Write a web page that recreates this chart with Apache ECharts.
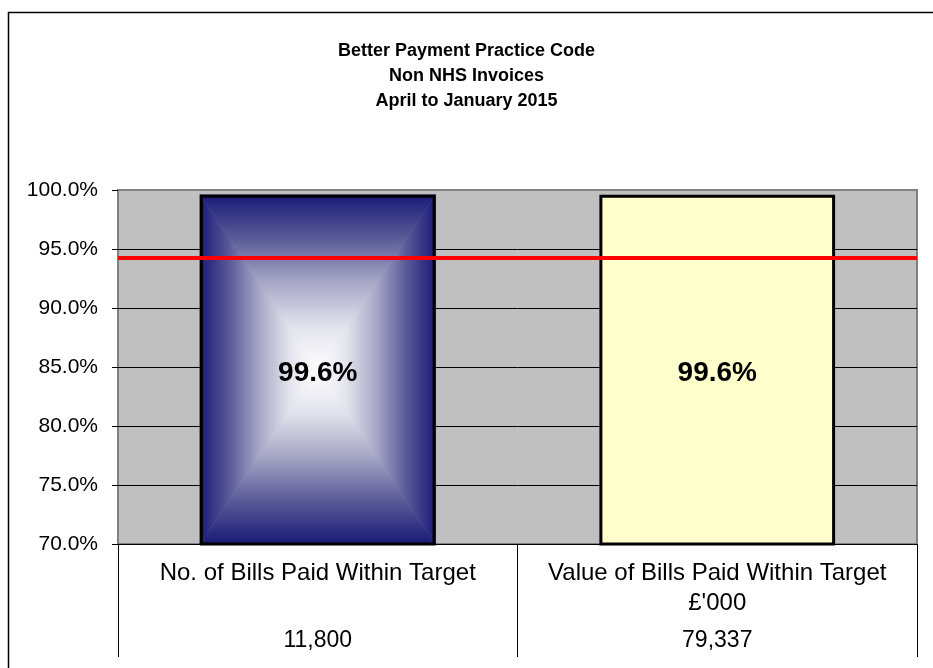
<!DOCTYPE html>
<html><head><meta charset="utf-8">
<script src="https://cdn.jsdelivr.net/npm/echarts@6/dist/echarts.min.js"></script>
<style>html,body{margin:0;padding:0;background:#fff}#c{width:933px;height:668px}</style>
</head><body><div id="c"></div>
<script>
// ---- data ----
const titleLines = ['Better Payment Practice Code', 'Non NHS Invoices', 'April to January 2015'];
const categories = ['No. of Bills Paid Within Target', "Value of Bills Paid Within Target\n£'000"];
const percentValues = [99.6, 99.6];
const tableValues = ['11,800', '79,337'];
const targetValue = 94.3;
const yMin = 70, yMax = 100, yInterval = 5;

// ---- styling ----
const FONT = '"Liberation Sans", Arial, sans-serif';
const BAR_FRAC = 0.59;
const NAVY = '#1a1a78';

function gradFill(x0, y0, x1, y1) {
  return new echarts.graphic.LinearGradient(x0, y0, x1, y1, [
    { offset: 0, color: NAVY },
    { offset: 0.25, color: '#5a5a98' },
    { offset: 0.5, color: '#a6a6c6' },
    { offset: 0.75, color: '#e2e2ec' },
    { offset: 1, color: '#ffffff' }
  ], true);
}

function renderGradientBar(params, api) {
  if (params.dataIndex !== 0) return null;
  const idx = api.value(0), v = api.value(1);
  const top = api.coord([idx, v]);
  const bot = api.coord([idx, yMin]);
  const w = api.size([1, 0])[0] * BAR_FRAC;
  const x0 = top[0] - w / 2, x1 = top[0] + w / 2, y0 = top[1], y1 = bot[1];
  const cx = top[0], cy = (y0 + y1) / 2;
  const poly = (pts, fill) => ({ type: 'polygon', shape: { points: pts }, style: { fill: fill, stroke: fill, lineWidth: 0.5 } });
  return {
    type: 'group',
    children: [
      poly([[x0, y0], [x1, y0], [cx, cy]], gradFill(cx, y0, cx, cy)),
      poly([[x0, y1], [x1, y1], [cx, cy]], gradFill(cx, y1, cx, cy)),
      poly([[x0, y0], [x0, y1], [cx, cy]], gradFill(x0, cy, cx, cy)),
      poly([[x1, y0], [x1, y1], [cx, cy]], gradFill(x1, cy, cx, cy))
    ]
  };
}

const chart = echarts.init(document.getElementById('c'), null, { renderer: 'canvas' });

const option = {
  animation: false,
  backgroundColor: '#ffffff',
  title: {
    text: titleLines.join('\n'),
    left: 'center',
    top: 34,
    textStyle: { fontFamily: FONT, fontSize: 18, fontWeight: 'bold', color: '#000', lineHeight: 25 }
  },
  graphic: [{
    type: 'polyline',
    shape: { points: [[8.5, 668], [8.5, 12.5], [933, 12.5]] },
    style: { stroke: '#000', lineWidth: 1.5, fill: null },
    silent: true
  }],
  grid: {
    left: 118, right: 16, top: 190, bottom: 124,
    show: true, backgroundColor: '#C0C0C0', borderColor: '#808080', borderWidth: 2
  },
  xAxis: [{
    type: 'category',
    data: categories,
    axisLine: { show: true, lineStyle: { color: '#000', width: 1 } },
    axisTick: { show: true, length: 113, interval: 0, lineStyle: { color: '#000', width: 1 } },
    axisLabel: { interval: 0, margin: 14, fontFamily: FONT, fontSize: 24, lineHeight: 30, color: '#000' },
    splitLine: { show: false }
  }, {
    type: 'category',
    data: tableValues,
    position: 'bottom',
    axisLine: { show: false },
    axisTick: { show: false },
    axisLabel: { interval: 0, margin: 82, fontFamily: FONT, fontSize: 23, lineHeight: 30, color: '#000' },
    splitLine: { show: false }
  }],
  yAxis: {
    type: 'value',
    min: yMin, max: yMax, interval: yInterval,
    axisLine: { show: false },
    axisTick: { show: true, length: 6, lineStyle: { color: '#000', width: 1 } },
    axisLabel: { margin: 20, fontFamily: FONT, fontSize: 21, color: '#000', formatter: v => v.toFixed(1) + '%' },
    splitLine: { show: true, lineStyle: { color: ['#000', '#000', '#000', '#000', '#000', '#000', '#808080'], width: 1 } }
  },
  series: [{
    type: 'custom',
    xAxisIndex: 0,
    z: 1,
    silent: true,
    renderItem: renderGradientBar,
    data: percentValues.map((v, i) => [i, v])
  }, {
    type: 'bar',
    xAxisIndex: 0,
    z: 2,
    barWidth: (BAR_FRAC * 100) + '%',
    data: percentValues.map((v, i) => ({
      value: v,
      itemStyle: { color: i === 0 ? 'rgba(0,0,0,0)' : '#FFFFCC', borderColor: '#000', borderWidth: 3 }
    })),
    label: {
      show: true, position: 'inside', offset: [0, 3],
      formatter: p => p.value.toFixed(1) + '%',
      fontFamily: FONT, fontSize: 28, fontWeight: 'bold', color: '#000'
    },
    markLine: {
      silent: true,
      symbol: ['none', 'none'],
      label: { show: false },
      lineStyle: { color: '#FF0000', width: 4, type: 'solid' },
      data: [{ yAxis: targetValue }]
    }
  }]
};
chart.setOption(option);
</script>
</body></html>
